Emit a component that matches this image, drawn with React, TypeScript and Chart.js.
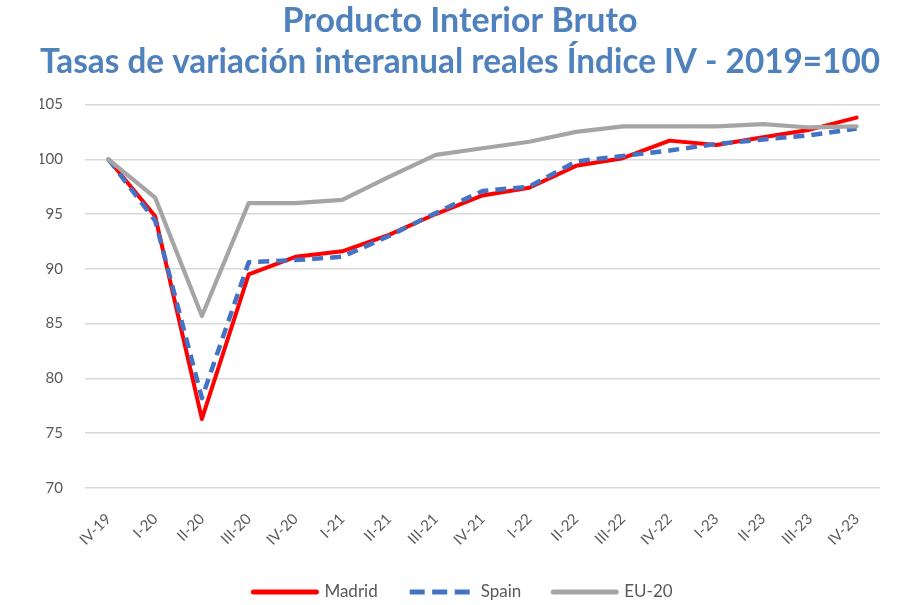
import React, { useEffect, useRef } from "react";
import { Chart, registerables } from "chart.js";

Chart.register(...registerables);

const titleLines = ["Producto Interior Bruto", "Tasas de variación interanual reales Índice IV - 2019=100"];

const quarters = [
  "IV-19", "I-20", "II-20", "III-20", "IV-20", "I-21", "II-21", "III-21", "IV-21",
  "I-22", "II-22", "III-22", "IV-22", "I-23", "II-23", "III-23", "IV-23",
];

const madrid = [100, 94.8, 76.3, 89.5, 91.1, 91.6, 93.1, 95.0, 96.7, 97.4, 99.4, 100.1, 101.7, 101.3, 102.0, 102.7, 103.8];
const spain = [100, 94.4, 78.2, 90.6, 90.8, 91.1, 93.0, 95.1, 97.1, 97.5, 99.8, 100.3, 100.8, 101.4, 101.8, 102.2, 102.8];
const eu20 = [100, 96.5, 85.7, 96.0, 96.0, 96.3, 98.4, 100.4, 101.0, 101.6, 102.5, 103.0, 103.0, 103.0, 103.2, 102.9, 103.0];

const yTicks = [70, 75, 80, 85, 90, 95, 100, 105];

const legendFont = "17px Lato";

const bottomLegend = {
  id: "bottomLegend",
  afterDraw(chart: any) {
    const ctx = chart.ctx;
    const ds = chart.data.datasets;
    const lineLen = 67;
    const gapText = 6;
    const gapItem = 30;
    ctx.save();
    ctx.font = legendFont;
    const widths = ds.map((d: any) => lineLen + gapText + ctx.measureText(d.label).width);
    const total = widths.reduce((a: number, b: number) => a + b, 0) + gapItem * (ds.length - 1);
    const centerX = 462;
    const y = 592;
    let x = centerX - total / 2;
    ds.forEach((d: any, i: number) => {
      ctx.beginPath();
      ctx.strokeStyle = d.borderColor;
      ctx.lineWidth = 5;
      if (d.borderDash) {
        ctx.setLineDash([15, 7.5]);
        ctx.lineCap = "butt";
      } else {
        ctx.setLineDash([]);
        ctx.lineCap = "round";
      }
      ctx.moveTo(x + 2, y);
      ctx.lineTo(x + lineLen - 2, y);
      ctx.stroke();
      ctx.setLineDash([]);
      ctx.fillStyle = "#595959";
      ctx.textBaseline = "middle";
      ctx.textAlign = "left";
      ctx.fillText(d.label, x + lineLen + gapText, y);
      x += widths[i] + gapItem;
    });
    ctx.restore();
  },
};

export default function App() {
  const ref = useRef<HTMLCanvasElement | null>(null);

  useEffect(() => {
    document.body.style.margin = "0";
    const canvas = ref.current;
    if (!canvas) return;
    const chart = new Chart(canvas, {
      type: "line",
      data: {
        labels: quarters,
        datasets: [
          {
            label: "Madrid",
            data: madrid,
            borderColor: "#FF0000",
            backgroundColor: "#FF0000",
            borderWidth: 4,
            pointRadius: 0,
            borderJoinStyle: "round",
            borderCapStyle: "round",
            tension: 0,
            order: 3,
          },
          {
            label: "Spain",
            data: spain,
            borderColor: "#4472C4",
            backgroundColor: "#4472C4",
            borderWidth: 4.5,
            borderDash: [11, 7],
            pointRadius: 0,
            borderJoinStyle: "round",
            tension: 0,
            order: 2,
          },
          {
            label: "EU-20",
            data: eu20,
            borderColor: "#A5A5A5",
            backgroundColor: "#A5A5A5",
            borderWidth: 4.2,
            pointRadius: 0,
            borderJoinStyle: "round",
            borderCapStyle: "round",
            tension: 0,
            order: 1,
          },
        ],
      },
      options: {
        animation: false,
        responsive: false,
        maintainAspectRatio: false,
        layout: { padding: { left: 40, right: 38, top: 0, bottom: 37 } },
        plugins: {
          title: {
            display: true,
            text: titleLines,
            color: "#4F81BD",
            font: { family: "Lato", weight: "bold", size: 34, lineHeight: 1.22 },
            padding: { top: 0, bottom: 21.5 },
          },
          legend: { display: false },
          tooltip: { enabled: false },
        },
        scales: {
          x: {
            offset: true,
            grid: { display: false },
            border: { display: false },
            afterFit: (axis: any) => {
              axis.height = 80;
            },
            ticks: {
              color: "#595959",
              font: { family: "Lato", size: 15 },
              minRotation: 45,
              maxRotation: 45,
              autoSkip: false,
              padding: 14,
            },
          },
          y: {
            min: 70,
            max: 105,
            afterBuildTicks: (axis: any) => {
              axis.ticks = yTicks.map((v) => ({ value: v }));
            },
            afterFit: (axis: any) => {
              axis.width = 45;
            },
            grid: { color: "#D9D9D9", lineWidth: 1.5, drawTicks: false },
            border: { display: false },
            ticks: {
              color: "#595959",
              font: { family: "Lato", size: 15 },
              padding: 22,
            },
          },
        },
      },
      plugins: [bottomLegend],
    });
    return () => chart.destroy();
  }, []);

  return (
    <div style={{ position: "absolute", left: 0, top: 0, width: 918, height: 605, background: "#fff" }}>
      <canvas ref={ref} width={918} height={605} style={{ width: 918, height: 605 }} />
    </div>
  );
}
